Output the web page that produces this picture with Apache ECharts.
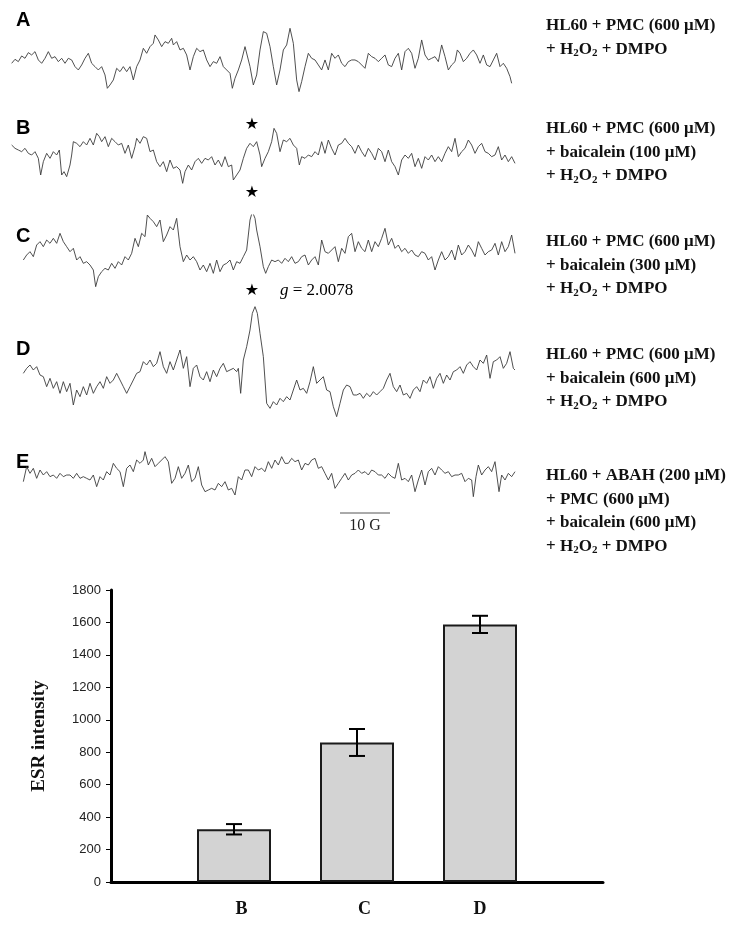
<!DOCTYPE html>
<html><head><meta charset="utf-8">
<script src="https://cdn.jsdelivr.net/npm/echarts@6/dist/echarts.min.js"></script>
<style>html,body{margin:0;padding:0;background:#fff}#c{width:730px;height:925px}</style>
</head><body><div id="c"></div>
<script>
// ESR spectra: [field (a.u.), signal (a.u.)]
const traceA = [[35,0],[45,12],[55,5],[65,22],[75,15],[85,32],[95,25],[105,35],[115,10],[125,0],[135,15],[145,35],[155,15],[165,20],[175,5],[185,15],[195,0],[205,15],[215,10],[225,-10],[235,-20],[245,-5],[255,15],[265,30],[275,0],[285,-10],[295,-20],[305,-10],[315,-35],[322,-75],[330,-65],[340,-50],[350,-15],[360,-25],[370,-10],[380,-25],[390,-10],[400,-50],[410,-10],[420,10],[430,45],[440,30],[450,50],[460,60],[465,85],[475,70],[485,50],[495,65],[505,60],[515,75],[520,55],[530,65],[540,40],[550,45],[560,25],[570,-20],[580,20],[590,45],[600,35],[610,40],[620,10],[630,-10],[640,5],[650,0],[660,20],[670,-10],[680,-20],[690,-30],[697,-75],[705,-45],[715,-20],[725,10],[735,50],[740,55],[750,-10],[760,-65],[770,-35],[780,40],[790,95],[800,90],[810,50],[820,-10],[830,-65],[840,-20],[850,40],[860,55],[870,105],[880,60],[890,-50],[897,-85],[905,-55],[915,-10],[925,30],[935,15],[945,10],[955,-5],[965,-20],[975,10],[985,-20],[995,30],[1005,15],[1015,25],[1025,0],[1035,-10],[1045,5],[1055,10],[1065,10],[1075,5],[1085,-5],[1095,-15],[1105,30],[1115,20],[1125,15],[1135,5],[1145,15],[1155,25],[1165,-5],[1175,-10],[1185,15],[1195,30],[1205,-20],[1215,35],[1225,45],[1235,30],[1245,-15],[1255,15],[1265,70],[1275,25],[1285,10],[1295,15],[1305,20],[1315,5],[1325,55],[1335,20],[1345,-20],[1355,-5],[1365,5],[1372,40],[1380,30],[1390,5],[1400,15],[1410,30],[1420,40],[1430,25],[1440,0],[1450,25],[1460,-5],[1470,-10],[1480,10],[1490,30],[1500,-10],[1510,0],[1520,-15],[1530,-40],[1535,-60]];
const traceB = [[35,30],[45,20],[55,15],[65,10],[75,20],[85,5],[95,0],[105,10],[115,-10],[122,-60],[130,-20],[140,5],[150,-10],[160,10],[170,0],[178,15],[185,-60],[192,-50],[200,-65],[210,-30],[215,0],[220,40],[230,35],[240,25],[250,40],[260,30],[270,50],[280,30],[290,65],[298,55],[305,40],[315,55],[325,25],[335,50],[345,40],[355,30],[365,35],[375,5],[385,30],[395,-10],[405,25],[410,50],[420,35],[430,55],[440,50],[450,10],[460,15],[470,-20],[480,-35],[490,-20],[500,-50],[510,-15],[520,-40],[530,-35],[540,-45],[548,-85],[555,-50],[565,-30],[575,-45],[585,-20],[595,-10],[605,-25],[615,-10],[625,-15],[635,-5],[645,-30],[655,-15],[665,-35],[675,-5],[685,-35],[695,-30],[700,-75],[710,-60],[720,-45],[730,-10],[740,20],[750,35],[760,25],[770,40],[780,0],[785,-35],[795,-10],[805,10],[815,40],[822,80],[830,65],[840,10],[850,45],[860,40],[870,50],[880,30],[890,20],[898,-30],[905,-5],[915,-10],[925,0],[935,-5],[945,10],[955,0],[965,40],[975,5],[985,45],[995,20],[1005,0],[1015,30],[1025,35],[1035,50],[1045,35],[1055,25],[1065,5],[1075,30],[1085,10],[1095,-5],[1105,20],[1115,5],[1125,-15],[1135,20],[1145,10],[1155,-20],[1165,15],[1175,-20],[1185,-35],[1195,-60],[1205,-15],[1215,0],[1225,-10],[1235,5],[1245,-35],[1255,-10],[1265,-40],[1275,-5],[1285,-15],[1295,0],[1305,-20],[1315,-5],[1325,-20],[1335,5],[1345,25],[1355,10],[1365,50],[1375,-5],[1385,10],[1395,20],[1405,45],[1415,30],[1425,5],[1435,25],[1445,35],[1455,10],[1465,5],[1475,-5],[1485,0],[1495,25],[1505,-15],[1515,0],[1525,-20],[1535,-5],[1545,-25]];
const traceC = [[70,-15],[80,0],[90,10],[100,-5],[110,30],[120,40],[130,25],[140,45],[150,35],[160,50],[170,35],[180,65],[190,40],[200,25],[210,10],[220,20],[230,-15],[240,-5],[250,-25],[260,-20],[270,-30],[280,-45],[287,-95],[295,-65],[305,-50],[315,-40],[325,-45],[335,-25],[345,-40],[355,-20],[365,-30],[375,-5],[385,-15],[395,5],[405,50],[415,25],[425,65],[435,55],[442,120],[450,110],[460,100],[470,85],[480,105],[490,40],[500,60],[510,85],[520,75],[530,110],[540,25],[550,-20],[560,0],[570,-15],[580,-5],[590,-20],[600,-45],[610,-30],[620,-50],[630,-25],[640,-55],[650,-15],[660,-50],[670,-30],[680,-25],[690,-15],[700,-45],[710,-20],[720,-25],[730,-5],[740,15],[750,105],[757,130],[765,110],[770,75],[780,25],[790,-35],[797,-55],[805,-35],[815,-15],[825,-20],[835,-15],[845,-25],[855,-10],[865,-20],[875,-5],[885,-25],[895,-20],[905,-5],[915,0],[925,-30],[935,-15],[945,-5],[955,-30],[965,45],[975,10],[985,5],[995,15],[1005,25],[1015,-20],[1025,20],[1035,5],[1045,55],[1055,65],[1065,10],[1075,40],[1085,20],[1095,10],[1105,45],[1115,10],[1125,40],[1135,25],[1145,50],[1155,80],[1165,30],[1175,50],[1185,20],[1195,30],[1205,10],[1215,20],[1225,5],[1235,15],[1245,0],[1255,-5],[1265,10],[1275,5],[1285,-15],[1295,-5],[1305,-45],[1315,-15],[1325,10],[1335,-15],[1345,-5],[1355,15],[1365,-15],[1375,30],[1385,0],[1395,10],[1405,30],[1415,15],[1425,-5],[1435,40],[1445,20],[1455,0],[1465,10],[1475,15],[1485,35],[1495,0],[1505,40],[1515,10],[1525,25],[1535,60],[1545,5]];
const traceD = [[70,20],[80,35],[90,45],[100,30],[110,40],[120,15],[130,10],[140,-20],[150,5],[160,-25],[170,-5],[180,-40],[190,-5],[200,-35],[210,-10],[220,-75],[230,-30],[240,-50],[250,-20],[260,-45],[270,-10],[280,-40],[290,-20],[300,-5],[310,-25],[320,10],[330,-10],[340,0],[350,20],[360,0],[370,-20],[380,-40],[390,-20],[400,0],[410,20],[420,25],[430,55],[440,45],[450,60],[460,40],[470,50],[480,85],[490,40],[500,20],[510,55],[520,30],[530,60],[540,90],[550,35],[560,70],[570,-20],[580,35],[590,45],[600,10],[610,0],[620,25],[630,-5],[640,30],[650,10],[660,35],[670,50],[680,25],[690,30],[700,35],[710,25],[715,35],[722,-40],[730,60],[740,100],[750,150],[757,200],[765,220],[772,200],[780,140],[790,70],[800,-70],[810,-85],[820,-65],[830,-75],[840,-55],[850,-65],[860,-50],[870,-60],[880,-30],[890,0],[900,-30],[910,-25],[920,-40],[930,-5],[940,40],[950,-10],[960,0],[970,10],[980,-30],[990,-35],[1000,-80],[1010,-110],[1020,-70],[1030,-30],[1040,-15],[1050,-20],[1060,-45],[1070,-45],[1080,-40],[1090,-55],[1100,-40],[1110,-50],[1120,-35],[1130,-45],[1140,-35],[1150,-25],[1160,0],[1170,20],[1180,-20],[1190,-35],[1200,-15],[1210,-45],[1220,-40],[1230,-55],[1240,-30],[1250,-20],[1260,-35],[1270,0],[1280,-10],[1290,10],[1300,-25],[1310,5],[1320,20],[1330,-10],[1340,15],[1350,0],[1360,25],[1370,30],[1380,40],[1390,20],[1400,45],[1410,55],[1420,40],[1430,30],[1440,60],[1450,50],[1460,75],[1470,5],[1480,55],[1490,60],[1500,70],[1510,35],[1520,50],[1530,85],[1540,35],[1545,30]];
const traceE = [[70,-20],[80,25],[90,5],[100,20],[110,-10],[120,15],[130,0],[140,10],[150,-5],[160,0],[170,-10],[180,5],[190,-5],[200,0],[210,0],[220,-10],[230,5],[240,-10],[250,-5],[260,-10],[270,-15],[280,0],[290,-35],[300,-5],[310,-15],[320,10],[330,0],[340,35],[350,20],[360,10],[370,-35],[380,20],[390,30],[400,10],[410,45],[420,35],[430,45],[435,70],[445,30],[455,50],[465,25],[475,35],[485,45],[495,55],[505,40],[515,-25],[525,-10],[535,25],[545,-10],[555,5],[565,30],[575,-20],[585,-10],[595,25],[605,-30],[615,-50],[625,-45],[635,-40],[645,-45],[655,-25],[665,-35],[675,-20],[685,-45],[695,-40],[705,-60],[715,-5],[725,-15],[735,15],[745,15],[755,-5],[765,25],[775,15],[785,20],[795,10],[805,40],[815,20],[825,45],[835,30],[845,55],[855,35],[865,35],[875,50],[885,40],[895,45],[905,15],[915,35],[925,30],[935,45],[945,50],[955,20],[965,25],[975,5],[985,-15],[995,5],[1005,-40],[1015,-25],[1025,-10],[1035,5],[1045,-15],[1055,0],[1065,5],[1075,15],[1085,5],[1095,10],[1105,0],[1115,15],[1125,10],[1135,0],[1145,0],[1155,-10],[1165,5],[1175,-5],[1185,-10],[1195,35],[1205,-15],[1215,-10],[1225,-20],[1235,0],[1245,-50],[1255,-15],[1265,15],[1275,-30],[1285,10],[1295,20],[1305,0],[1315,25],[1325,15],[1335,5],[1345,10],[1355,-5],[1365,0],[1375,0],[1385,5],[1395,-20],[1405,-10],[1415,-15],[1420,-65],[1428,-5],[1435,30],[1445,0],[1455,15],[1465,25],[1475,10],[1485,40],[1497,-50],[1505,0],[1515,-15],[1525,5],[1535,-5],[1545,10]];

const panelLetters = ['A', 'B', 'C', 'D', 'E'];
const panelLabels = [
  ['HL60 + PMC (600 μM)', '+ H2O2 + DMPO'],
  ['HL60 + PMC (600 μM)', '+ baicalein (100 μM)', '+ H2O2 + DMPO'],
  ['HL60 + PMC (600 μM)', '+ baicalein (300 μM)', '+ H2O2 + DMPO'],
  ['HL60 + PMC (600 μM)', '+ baicalein (600 μM)', '+ H2O2 + DMPO'],
  ['HL60 + ABAH (200 μM)', '+ PMC (600 μM)', '+ baicalein (600 μM)', '+ H2O2 + DMPO']
];
const gValue = 'g = 2.0078';
const scaleBarLabel = '10 G';

// Bar chart
const barCategories = ['', 'B', 'C', 'D', ''];
const barValues = [null, 325, 860, 1588, null];
const barErrors = [null, 32, 83, 53, null];
const yTicks = [0, 200, 400, 600, 800, 1000, 1200, 1400, 1600, 1800];
const yAxisTitle = 'ESR intensity';

const traces = [traceA, traceB, traceC, traceD, traceE];
const traceLayout = [
  {top: 23.3, height: 80, min: -120, max: 120, letterY: 20, labelY: 26},
  {top: 115, height: 80, min: -120, max: 120, letterY: 128, labelY: 129},
  {top: 215, height: 80, min: -120, max: 120, letterY: 236, labelY: 242},
  {top: 300, height: 130, min: -150, max: 240, letterY: 349, labelY: 355},
  {top: 435, height: 80, min: -120, max: 120, letterY: 462, labelY: 476}
];

const chart = echarts.init(document.getElementById('c'), null, {renderer: 'canvas'});
const grids = [], xAxes = [], yAxes = [], series = [], graphics = [];

traces.forEach((tr, i) => {
  const L = traceLayout[i];
  grids.push({left: 0, width: 520, top: L.top, height: L.height});
  xAxes.push({type: 'value', gridIndex: i, min: 0, max: 1560, show: false});
  yAxes.push({type: 'value', gridIndex: i, min: L.min, max: L.max, show: false});
  series.push({type: 'line', xAxisIndex: i, yAxisIndex: i, data: tr, showSymbol: false, symbol: 'none',
    lineStyle: {color: '#3c3c3c', width: 0.9}, animation: false, silent: true});
});

// bar grid
const bi = traces.length;
grids.push({left: 111, top: 590, width: 492, height: 292});
xAxes.push({type: 'category', gridIndex: bi, data: barCategories, boundaryGap: false,
  axisLine: {lineStyle: {color: '#000', width: 3}}, axisTick: {show: false},
  axisLabel: {margin: 18, fontFamily: 'Liberation Serif', fontWeight: 'bold', fontSize: 18, color: '#111',
    formatter: v => (v === 'D' || v === '') ? v : '{o|' + v + '}',
    rich: {o: {fontFamily: 'Liberation Serif', fontWeight: 'bold', fontSize: 18, color: '#111', padding: [0, 0, 0, 15]}}}});
yAxes.push({type: 'value', gridIndex: bi, min: 0, max: 1800, interval: 200,
  name: yAxisTitle, nameLocation: 'middle', nameGap: 62, nameRotate: 90,
  nameTextStyle: {fontFamily: 'Liberation Serif', fontWeight: 'bold', fontSize: 19, color: '#111'},
  axisLine: {show: true, lineStyle: {color: '#000', width: 3}},
  axisTick: {show: true, length: 5, lineStyle: {color: '#000', width: 1}},
  axisLabel: {margin: 10, fontFamily: 'Liberation Sans', fontSize: 13, color: '#222',
    formatter: v => yTicks.includes(v) ? String(v) : ''},
  splitLine: {show: false}});
series.push({type: 'bar', xAxisIndex: bi, yAxisIndex: bi, data: barValues, barWidth: 74,
  itemStyle: {color: '#d3d3d3', borderColor: '#1a1a1a', borderWidth: 2}, animation: false, silent: true});
series.push({type: 'custom', xAxisIndex: bi, yAxisIndex: bi, animation: false, silent: true, z: 10,
  data: barValues.map((v, k) => v == null ? null : [k, v - barErrors[k], v + barErrors[k]]).filter(d => d),
  renderItem: (params, api) => {
    const lo = api.coord([api.value(0), api.value(1)]);
    const hi = api.coord([api.value(0), api.value(2)]);
    const hw = 8;
    const st = {stroke: '#000', lineWidth: 2};
    return {type: 'group', children: [
      {type: 'line', shape: {x1: lo[0], y1: lo[1], x2: hi[0], y2: hi[1]}, style: st},
      {type: 'line', shape: {x1: lo[0] - hw, y1: lo[1], x2: lo[0] + hw, y2: lo[1]}, style: st},
      {type: 'line', shape: {x1: hi[0] - hw, y1: hi[1], x2: hi[0] + hw, y2: hi[1]}, style: st}
    ]};
  }});

// text rich styles
const rich = {
  n: {fontFamily: 'Liberation Serif', fontWeight: 'bold', fontSize: 17, color: '#111'},
  s: {fontFamily: 'Liberation Serif', fontWeight: 'bold', fontSize: 11, color: '#111', padding: [8, 0, 0, 0]}
};
function toRich(line) {
  return line.split(/(H2|O2)/).filter(p => p).map(p => {
    if (p === 'H2') return '{n|H}{s|2}';
    if (p === 'O2') return '{n|O}{s|2}';
    return '{n|' + p + '}';
  }).join('');
}

traceLayout.forEach((L, i) => {
  graphics.push({type: 'text', x: 16, y: L.letterY, silent: true,
    style: {text: panelLetters[i], font: 'bold 20px "Liberation Sans", Arial', fill: '#000', verticalAlign: 'middle'}});
  panelLabels[i].forEach((line, j) => {
    graphics.push({type: 'text', x: 546, y: L.labelY + j * 23.5, silent: true,
      style: {text: toRich(line), rich: rich, verticalAlign: 'middle', fill: '#111'}});
  });
});

// stars and g value
[[252, 125], [252, 193], [252, 291]].forEach(p => {
  graphics.push({type: 'text', x: p[0], y: p[1], silent: true,
    style: {text: '★', font: '16px "DejaVu Sans"', fill: '#000', align: 'center', verticalAlign: 'middle'}});
});
graphics.push({type: 'text', x: 280, y: 291, silent: true,
  style: {text: '{i|g}{r| = 2.0078}', rich: {
    i: {fontFamily: 'Liberation Serif', fontStyle: 'italic', fontSize: 17, color: '#222'},
    r: {fontFamily: 'Liberation Serif', fontSize: 17, color: '#222'}}, verticalAlign: 'middle'}});

// scale bar
graphics.push({type: 'line', silent: true, shape: {x1: 340, y1: 513, x2: 390, y2: 513}, style: {stroke: '#555', lineWidth: 1}});
graphics.push({type: 'text', x: 365, y: 526, silent: true,
  style: {text: scaleBarLabel, font: '16px "Liberation Serif"', fill: '#222', align: 'center', verticalAlign: 'middle'}});

chart.setOption({
  animation: false,
  backgroundColor: '#fff',
  grid: grids, xAxis: xAxes, yAxis: yAxes, series: series, graphic: graphics
});
</script></body></html>
